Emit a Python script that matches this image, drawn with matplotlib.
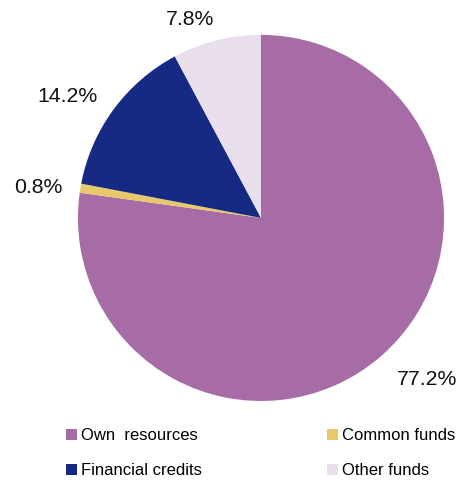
import numpy as np
import matplotlib.pyplot as plt
from matplotlib.patches import Patch

plt.rcParams['font.family'] = ['Liberation Sans', 'DejaVu Sans']

categorias = ['Own  resources', 'Common funds', 'Financial credits', 'Other funds']
valores = [77.2, 0.8, 14.2, 7.8]
colores = ['#A76BA5', '#E8C96A', '#172A83', '#E8DEEC']
# posición de cada etiqueta: distancia al centro (en radios) y giro respecto al centro de la porción
distancias = [1.263, 1.23, 1.245, 1.149]
giros = [4.7, 1.5, 4.3, 5.7]

fig = plt.figure(figsize=(4.64, 4.83), dpi=100)
ax = fig.add_axes([0.168, 0.1698, 0.789, 0.758])

wedges, _ = ax.pie(valores, colors=colores, startangle=90, counterclock=False,
                   radius=1, wedgeprops={'linewidth': 0})
for w, v, d, g in zip(wedges, valores, distancias, giros):
    ang = np.deg2rad((w.theta1 + w.theta2) / 2 + g)
    ax.text(d * np.cos(ang), d * np.sin(ang), f'{v:.1f}%', ha='center', va='center',
            fontsize=15.3, color='#111111')
ax.set_xlim(-1, 1)
ax.set_ylim(-1, 1)
ax.set_aspect('equal')

# orden por columnas: primera columna Own / Financial, segunda Common / Other
orden = [0, 2, 1, 3]
handles = [Patch(facecolor=colores[i], edgecolor='none') for i in orden]
fig.legend(handles, [categorias[i] for i in orden], ncol=2, loc='upper left',
           bbox_to_anchor=(66 / 464, 1 - 428 / 483), frameon=False,
           fontsize=12, handlelength=0.65, handleheight=0.65, handletextpad=0.25,
           columnspacing=7.5, labelspacing=1.2, borderpad=0, borderaxespad=0)

fig.savefig('out.png', dpi=100)
